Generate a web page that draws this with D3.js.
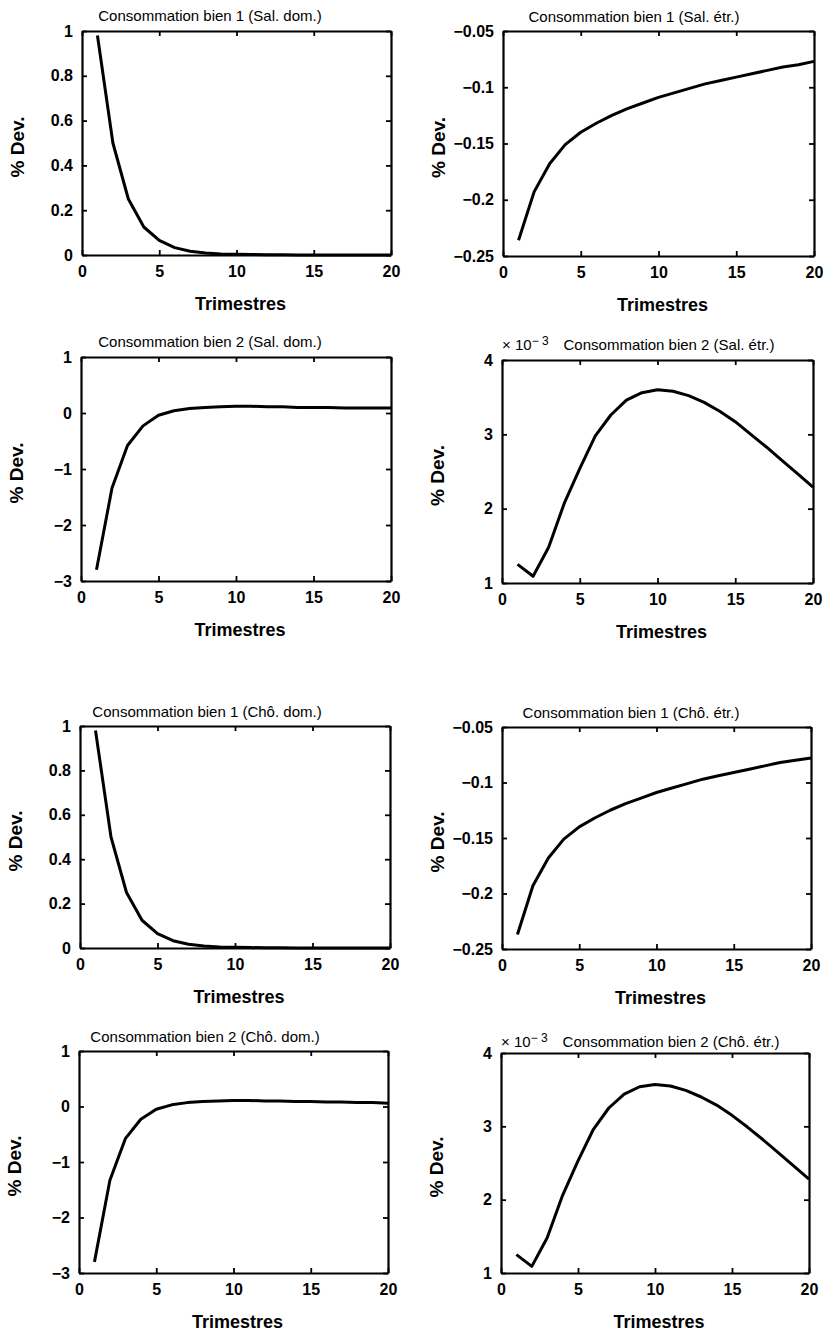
<!DOCTYPE html>
<html>
<head>
<meta charset="utf-8">
<script src="https://cdn.jsdelivr.net/npm/d3@7"></script>
<style>
  html, body { margin: 0; padding: 0; background: #fff; }
  svg { display: block; }
  .tick text { font-family: "Liberation Sans", Arial, sans-serif; font-weight: bold; font-size: 16px; fill: #000; }
</style>
</head>
<body>
<svg id="chart" width="826" height="1335"></svg>
<script>
// ---- Data ----
const trimestres = [1,2,3,4,5,6,7,8,9,10,11,12,13,14,15,16,17,18,19,20];
const xTicks = [0, 5, 10, 15, 20];

// Salaires (Sal.)
const conso1SalDom = [0.98, 0.50, 0.25, 0.125, 0.065, 0.033, 0.017, 0.009, 0.005, 0.003, 0.002, 0.001, 0.001, 0.0005, 0.0003, 0.0002, 0.0001, 0.0001, 0.0, 0.0];
const conso1SalEtr = [-0.236, -0.193, -0.168, -0.151, -0.140, -0.132, -0.125, -0.119, -0.114, -0.109, -0.105, -0.101, -0.097, -0.094, -0.091, -0.088, -0.085, -0.082, -0.080, -0.077];
const conso2SalDom = [-2.80, -1.34, -0.58, -0.23, -0.04, 0.04, 0.08, 0.10, 0.11, 0.12, 0.12, 0.11, 0.11, 0.10, 0.10, 0.10, 0.09, 0.09, 0.09, 0.09];
const conso2SalEtr = [1.25, 1.09, 1.48, 2.07, 2.54, 2.98, 3.26, 3.46, 3.56, 3.60, 3.58, 3.52, 3.43, 3.31, 3.17, 3.00, 2.83, 2.65, 2.47, 2.29]; // x 10^-3

// Chômeurs (Chô.)
const conso1ChoDom = [0.98, 0.50, 0.25, 0.125, 0.065, 0.033, 0.017, 0.009, 0.005, 0.003, 0.002, 0.001, 0.001, 0.0005, 0.0003, 0.0002, 0.0001, 0.0001, 0.0, 0.0];
const conso1ChoEtr = [-0.237, -0.193, -0.168, -0.151, -0.140, -0.132, -0.125, -0.119, -0.114, -0.109, -0.105, -0.101, -0.097, -0.094, -0.091, -0.088, -0.085, -0.082, -0.080, -0.078];
const conso2ChoDom = [-2.80, -1.33, -0.58, -0.23, -0.05, 0.03, 0.07, 0.09, 0.10, 0.11, 0.11, 0.10, 0.10, 0.09, 0.09, 0.08, 0.08, 0.07, 0.07, 0.06];
const conso2ChoEtr = [1.25, 1.09, 1.48, 2.06, 2.53, 2.96, 3.25, 3.44, 3.54, 3.57, 3.55, 3.49, 3.40, 3.29, 3.15, 2.99, 2.82, 2.64, 2.46, 2.28]; // x 10^-3

const yTicksC1Dom = [0, 0.2, 0.4, 0.6, 0.8, 1];
const yTicksC1Etr = [-0.25, -0.2, -0.15, -0.1, -0.05];
const yTicksC2Dom = [-3, -2, -1, 0, 1];
const yTicksC2Etr = [1, 2, 3, 4];

const titles = [
  "Consommation bien 1 (Sal. dom.)", "Consommation bien 1 (Sal. étr.)",
  "Consommation bien 2 (Sal. dom.)", "Consommation bien 2 (Sal. étr.)",
  "Consommation bien 1 (Chô. dom.)", "Consommation bien 1 (Chô. étr.)",
  "Consommation bien 2 (Chô. dom.)", "Consommation bien 2 (Chô. étr.)"
];
const xLabel = "Trimestres";
const yLabel = "% Dev.";

// ---- Layout (positions only) ----
const panels = [
  {x0: 82,  x1: 391, y0: 31,   y1: 255,  series: conso1SalDom, dom: [0, 1],          ticks: yTicksC1Dom, title: titles[0], tx: 210, ty: 21},
  {x0: 503, x1: 814, y0: 31,   y1: 256,  series: conso1SalEtr, dom: [-0.25, -0.05],  ticks: yTicksC1Etr, title: titles[1], tx: 634, ty: 22},
  {x0: 81,  x1: 391, y0: 357,  y1: 581,  series: conso2SalDom, dom: [-3, 1],         ticks: yTicksC2Dom, title: titles[2], tx: 210, ty: 347},
  {x0: 502, x1: 813, y0: 360,  y1: 583,  series: conso2SalEtr, dom: [1, 4],          ticks: yTicksC2Etr, title: titles[3], tx: 669, ty: 350, mult: true},
  {x0: 80,  x1: 390, y0: 726,  y1: 948,  series: conso1ChoDom, dom: [0, 1],          ticks: yTicksC1Dom, title: titles[4], tx: 207, ty: 717},
  {x0: 502, x1: 811, y0: 727,  y1: 949,  series: conso1ChoEtr, dom: [-0.25, -0.05],  ticks: yTicksC1Etr, title: titles[5], tx: 631, ty: 718},
  {x0: 79,  x1: 388, y0: 1051, y1: 1273, series: conso2ChoDom, dom: [-3, 1],         ticks: yTicksC2Dom, title: titles[6], tx: 205, ty: 1042},
  {x0: 501, x1: 809, y0: 1053, y1: 1273, series: conso2ChoEtr, dom: [1, 4],          ticks: yTicksC2Etr, title: titles[7], tx: 671, ty: 1047, mult: true}
];

const svg = d3.select("#chart");
const fmt = d3.format("~g");
const sans = "'Liberation Sans', Arial, Helvetica, sans-serif";

panels.forEach(p => {
  const x = d3.scaleLinear().domain([0, 20]).range([p.x0, p.x1]);
  const y = d3.scaleLinear().domain(p.dom).range([p.y1, p.y0]);
  const g = svg.append("g");

  // Frame axes with inward ticks
  const styleAxis = sel => {
    sel.select(".domain").attr("stroke", "#000").attr("stroke-width", 2.2);
    sel.selectAll(".tick line").attr("stroke", "#000").attr("stroke-width", 1.8);
  };
  g.append("g").attr("transform", `translate(0,${p.y1})`)
    .call(d3.axisBottom(x).tickValues(xTicks).tickSizeInner(-5).tickSizeOuter(0).tickPadding(11).tickFormat(fmt))
    .call(styleAxis);
  g.append("g").attr("transform", `translate(0,${p.y0})`)
    .call(d3.axisTop(x).tickValues(xTicks).tickSizeInner(-5).tickSizeOuter(0).tickFormat(""))
    .call(styleAxis);
  g.append("g").attr("transform", `translate(${p.x0},0)`)
    .call(d3.axisLeft(y).tickValues(p.ticks).tickSizeInner(-5).tickSizeOuter(0).tickPadding(9).tickFormat(fmt))
    .call(styleAxis);
  g.append("g").attr("transform", `translate(${p.x1},0)`)
    .call(d3.axisRight(y).tickValues(p.ticks).tickSizeInner(-5).tickSizeOuter(0).tickFormat(""))
    .call(styleAxis);
  g.selectAll(".tick text").attr("font-family", null).attr("font-size", null);

  // Line
  const line = d3.line().x((d, i) => x(trimestres[i])).y(d => y(d));
  g.append("path").datum(p.series)
    .attr("fill", "none").attr("stroke", "#000").attr("stroke-width", 3)
    .attr("stroke-linejoin", "round")
    .attr("d", line);

  // Title
  g.append("text").attr("x", p.tx).attr("y", p.ty)
    .attr("text-anchor", "middle")
    .attr("font-family", sans).attr("font-size", 15)
    .text(p.title);

  // Multiplier
  if (p.mult) {
    const m = g.append("text").attr("x", p.x0).attr("y", p.ty)
      .attr("font-family", sans).attr("font-size", 15);
    m.append("tspan").text("× 10");
    m.append("tspan").attr("dy", -5).attr("font-size", 12).text("− 3");
  }

  // X label
  g.append("text").attr("x", (p.x0 + p.x1) / 2 + 4).attr("y", p.y1 + 55)
    .attr("text-anchor", "middle")
    .attr("font-family", sans).attr("font-weight", "bold").attr("font-size", 18)
    .text(xLabel);

  // Y label
  const cy = (p.y0 + p.y1) / 2 + 4;
  g.append("text").attr("transform", `translate(${p.x0 - 58},${cy}) rotate(-90)`)
    .attr("text-anchor", "middle")
    .attr("font-family", sans).attr("font-weight", "bold").attr("font-size", 19)
    .text(yLabel);
});
</script>
</body>
</html>
